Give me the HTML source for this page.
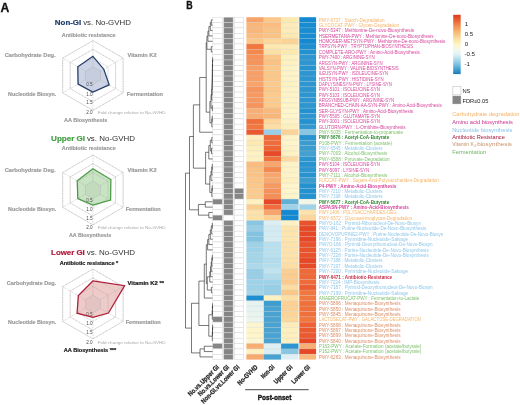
<!DOCTYPE html>
<html><head><meta charset="utf-8"><style>
html,body{margin:0;padding:0;background:#fff;width:520px;height:405px;overflow:hidden}
svg{display:block;filter:blur(0.3px)}
text{font-family:"Liberation Sans",sans-serif}
</style></head><body>
<svg width="520" height="405" viewBox="0 0 520 405">
<rect x="0" y="0" width="520" height="405" fill="#fff"/>
<rect x="246.4" y="17.20" width="17.4" height="5.35" fill="#f7a36a"/>
<rect x="263.8" y="17.20" width="17.3" height="5.35" fill="#fbc88a"/>
<rect x="281.1" y="17.20" width="17.4" height="5.35" fill="#fde8b0"/>
<rect x="299.3" y="17.20" width="16.8" height="5.35" fill="#1289d0"/>
<rect x="246.4" y="22.55" width="17.4" height="5.35" fill="#f9b67a"/>
<rect x="263.8" y="22.55" width="17.3" height="5.35" fill="#fabc7f"/>
<rect x="281.1" y="22.55" width="17.4" height="5.35" fill="#fdecb9"/>
<rect x="299.3" y="22.55" width="16.8" height="5.35" fill="#178cd0"/>
<rect x="246.4" y="27.90" width="17.4" height="5.35" fill="#f9b67a"/>
<rect x="263.8" y="27.90" width="17.3" height="5.35" fill="#fac285"/>
<rect x="281.1" y="27.90" width="17.4" height="5.35" fill="#fdecb9"/>
<rect x="299.3" y="27.90" width="16.8" height="5.35" fill="#178cd0"/>
<rect x="246.4" y="33.25" width="17.4" height="5.35" fill="#fabc7f"/>
<rect x="263.8" y="33.25" width="17.3" height="5.35" fill="#fac285"/>
<rect x="281.1" y="33.25" width="17.4" height="5.35" fill="#fde8b0"/>
<rect x="299.3" y="33.25" width="16.8" height="5.35" fill="#178cd0"/>
<rect x="246.4" y="38.60" width="17.4" height="5.35" fill="#fbc88a"/>
<rect x="263.8" y="38.60" width="17.3" height="5.35" fill="#fcd69a"/>
<rect x="281.1" y="38.60" width="17.4" height="5.35" fill="#fcd397"/>
<rect x="299.3" y="38.60" width="16.8" height="5.35" fill="#1289d0"/>
<rect x="246.4" y="43.95" width="17.4" height="5.35" fill="#f2773f"/>
<rect x="263.8" y="43.95" width="17.3" height="5.35" fill="#fde8b0"/>
<rect x="281.1" y="43.95" width="17.4" height="5.35" fill="#fdebb5"/>
<rect x="299.3" y="43.95" width="16.8" height="5.35" fill="#1d8ed0"/>
<rect x="246.4" y="49.30" width="17.4" height="5.35" fill="#f48950"/>
<rect x="263.8" y="49.30" width="17.3" height="5.35" fill="#fcdfa5"/>
<rect x="281.1" y="49.30" width="17.4" height="5.35" fill="#fde8b0"/>
<rect x="299.3" y="49.30" width="16.8" height="5.35" fill="#2291d0"/>
<rect x="246.4" y="54.65" width="17.4" height="5.35" fill="#f59159"/>
<rect x="263.8" y="54.65" width="17.3" height="5.35" fill="#fbc88a"/>
<rect x="281.1" y="54.65" width="17.4" height="5.35" fill="#fef1c1"/>
<rect x="299.3" y="54.65" width="16.8" height="5.35" fill="#2d96d0"/>
<rect x="246.4" y="60.00" width="17.4" height="5.35" fill="#f5955c"/>
<rect x="263.8" y="60.00" width="17.3" height="5.35" fill="#fac285"/>
<rect x="281.1" y="60.00" width="17.4" height="5.35" fill="#fef1c1"/>
<rect x="299.3" y="60.00" width="16.8" height="5.35" fill="#2d96d0"/>
<rect x="246.4" y="65.35" width="17.4" height="5.35" fill="#f79f67"/>
<rect x="263.8" y="65.35" width="17.3" height="5.35" fill="#fbc88a"/>
<rect x="281.1" y="65.35" width="17.4" height="5.35" fill="#fef3c7"/>
<rect x="299.3" y="65.35" width="16.8" height="5.35" fill="#2793d0"/>
<rect x="246.4" y="70.70" width="17.4" height="5.35" fill="#f79f67"/>
<rect x="263.8" y="70.70" width="17.3" height="5.35" fill="#fbc88a"/>
<rect x="281.1" y="70.70" width="17.4" height="5.35" fill="#fef3c7"/>
<rect x="299.3" y="70.70" width="16.8" height="5.35" fill="#2d96d0"/>
<rect x="246.4" y="76.05" width="17.4" height="5.35" fill="#f79f67"/>
<rect x="263.8" y="76.05" width="17.3" height="5.35" fill="#fbc88a"/>
<rect x="281.1" y="76.05" width="17.4" height="5.35" fill="#fef3c7"/>
<rect x="299.3" y="76.05" width="16.8" height="5.35" fill="#2d96d0"/>
<rect x="246.4" y="81.40" width="17.4" height="5.35" fill="#f7a36a"/>
<rect x="263.8" y="81.40" width="17.3" height="5.35" fill="#fbcb8d"/>
<rect x="281.1" y="81.40" width="17.4" height="5.35" fill="#fef2c3"/>
<rect x="299.3" y="81.40" width="16.8" height="5.35" fill="#2d96d0"/>
<rect x="246.4" y="86.75" width="17.4" height="5.35" fill="#f5955c"/>
<rect x="263.8" y="86.75" width="17.3" height="5.35" fill="#fbc88a"/>
<rect x="281.1" y="86.75" width="17.4" height="5.35" fill="#fef3c7"/>
<rect x="299.3" y="86.75" width="16.8" height="5.35" fill="#2d96d0"/>
<rect x="246.4" y="92.10" width="17.4" height="5.35" fill="#f69a61"/>
<rect x="263.8" y="92.10" width="17.3" height="5.35" fill="#fbca8c"/>
<rect x="281.1" y="92.10" width="17.4" height="5.35" fill="#fef3c7"/>
<rect x="299.3" y="92.10" width="16.8" height="5.35" fill="#2d96d0"/>
<rect x="246.4" y="97.45" width="17.4" height="5.35" fill="#f69860"/>
<rect x="263.8" y="97.45" width="17.3" height="5.35" fill="#fbca8c"/>
<rect x="281.1" y="97.45" width="17.4" height="5.35" fill="#fef4c8"/>
<rect x="299.3" y="97.45" width="16.8" height="5.35" fill="#2d96d0"/>
<rect x="246.4" y="102.80" width="17.4" height="5.35" fill="#f5955c"/>
<rect x="263.8" y="102.80" width="17.3" height="5.35" fill="#fbca8c"/>
<rect x="281.1" y="102.80" width="17.4" height="5.35" fill="#fef4c8"/>
<rect x="299.3" y="102.80" width="16.8" height="5.35" fill="#2d96d0"/>
<rect x="246.4" y="108.15" width="17.4" height="5.35" fill="#f8af75"/>
<rect x="263.8" y="108.15" width="17.3" height="5.35" fill="#f9b97d"/>
<rect x="281.1" y="108.15" width="17.4" height="5.35" fill="#fef5ca"/>
<rect x="299.3" y="108.15" width="16.8" height="5.35" fill="#2492d0"/>
<rect x="246.4" y="113.50" width="17.4" height="5.35" fill="#f8af75"/>
<rect x="263.8" y="113.50" width="17.3" height="5.35" fill="#f9b67a"/>
<rect x="281.1" y="113.50" width="17.4" height="5.35" fill="#fef5ca"/>
<rect x="299.3" y="113.50" width="16.8" height="5.35" fill="#2d96d0"/>
<rect x="246.4" y="118.85" width="17.4" height="5.35" fill="#f0703b"/>
<rect x="263.8" y="118.85" width="17.3" height="5.35" fill="#fcd69a"/>
<rect x="281.1" y="118.85" width="17.4" height="5.35" fill="#fef3c7"/>
<rect x="299.3" y="118.85" width="16.8" height="5.35" fill="#2492d0"/>
<rect x="246.4" y="124.20" width="17.4" height="5.35" fill="#f2773f"/>
<rect x="263.8" y="124.20" width="17.3" height="5.35" fill="#fcdda3"/>
<rect x="281.1" y="124.20" width="17.4" height="5.35" fill="#feefbe"/>
<rect x="299.3" y="124.20" width="16.8" height="5.35" fill="#3398d0"/>
<rect x="246.4" y="129.55" width="17.4" height="5.35" fill="#eb5930"/>
<rect x="263.8" y="129.55" width="17.3" height="5.35" fill="#98cee6"/>
<rect x="281.1" y="129.55" width="17.4" height="5.35" fill="#fcd397"/>
<rect x="299.3" y="129.55" width="16.8" height="5.35" fill="#88c6e2"/>
<rect x="246.4" y="134.90" width="17.4" height="5.35" fill="#feefbe"/>
<rect x="263.8" y="134.90" width="17.3" height="5.35" fill="#ef6837"/>
<rect x="281.1" y="134.90" width="17.4" height="5.35" fill="#fef3c7"/>
<rect x="299.3" y="134.90" width="16.8" height="5.35" fill="#2793d0"/>
<rect x="246.4" y="140.25" width="17.4" height="5.35" fill="#fde8b0"/>
<rect x="263.8" y="140.25" width="17.3" height="5.35" fill="#f06c3a"/>
<rect x="281.1" y="140.25" width="17.4" height="5.35" fill="#fef5ca"/>
<rect x="299.3" y="140.25" width="16.8" height="5.35" fill="#3b9cd0"/>
<rect x="246.4" y="145.60" width="17.4" height="5.35" fill="#fdeebc"/>
<rect x="263.8" y="145.60" width="17.3" height="5.35" fill="#ee6536"/>
<rect x="281.1" y="145.60" width="17.4" height="5.35" fill="#fef3c7"/>
<rect x="299.3" y="145.60" width="16.8" height="5.35" fill="#3b9cd0"/>
<rect x="246.4" y="150.95" width="17.4" height="5.35" fill="#fef2c5"/>
<rect x="263.8" y="150.95" width="17.3" height="5.35" fill="#e84a28"/>
<rect x="281.1" y="150.95" width="17.4" height="5.35" fill="#fef2c5"/>
<rect x="299.3" y="150.95" width="16.8" height="5.35" fill="#44a0d0"/>
<rect x="246.4" y="156.30" width="17.4" height="5.35" fill="#fef1c1"/>
<rect x="263.8" y="156.30" width="17.3" height="5.35" fill="#f0703b"/>
<rect x="281.1" y="156.30" width="17.4" height="5.35" fill="#fcdaa0"/>
<rect x="299.3" y="156.30" width="16.8" height="5.35" fill="#2d96d0"/>
<rect x="246.4" y="161.65" width="17.4" height="5.35" fill="#fabc7f"/>
<rect x="263.8" y="161.65" width="17.3" height="5.35" fill="#f7a56c"/>
<rect x="281.1" y="161.65" width="17.4" height="5.35" fill="#fef3c7"/>
<rect x="299.3" y="161.65" width="16.8" height="5.35" fill="#2793d0"/>
<rect x="246.4" y="167.00" width="17.4" height="5.35" fill="#fac285"/>
<rect x="263.8" y="167.00" width="17.3" height="5.35" fill="#f48950"/>
<rect x="281.1" y="167.00" width="17.4" height="5.35" fill="#fef3c7"/>
<rect x="299.3" y="167.00" width="16.8" height="5.35" fill="#2d96d0"/>
<rect x="246.4" y="172.35" width="17.4" height="5.35" fill="#fac285"/>
<rect x="263.8" y="172.35" width="17.3" height="5.35" fill="#f7a56c"/>
<rect x="281.1" y="172.35" width="17.4" height="5.35" fill="#fef3c7"/>
<rect x="299.3" y="172.35" width="16.8" height="5.35" fill="#2793d0"/>
<rect x="246.4" y="177.70" width="17.4" height="5.35" fill="#fbc688"/>
<rect x="263.8" y="177.70" width="17.3" height="5.35" fill="#f8a96f"/>
<rect x="281.1" y="177.70" width="17.4" height="5.35" fill="#fef1c1"/>
<rect x="299.3" y="177.70" width="16.8" height="5.35" fill="#3b9cd0"/>
<rect x="246.4" y="183.05" width="17.4" height="5.35" fill="#fbc88a"/>
<rect x="263.8" y="183.05" width="17.3" height="5.35" fill="#f69a61"/>
<rect x="281.1" y="183.05" width="17.4" height="5.35" fill="#fef5ca"/>
<rect x="299.3" y="183.05" width="16.8" height="5.35" fill="#2492d0"/>
<rect x="246.4" y="188.40" width="17.4" height="5.35" fill="#fbca8c"/>
<rect x="263.8" y="188.40" width="17.3" height="5.35" fill="#f59159"/>
<rect x="281.1" y="188.40" width="17.4" height="5.35" fill="#fef5ca"/>
<rect x="299.3" y="188.40" width="16.8" height="5.35" fill="#2492d0"/>
<rect x="246.4" y="193.75" width="17.4" height="5.35" fill="#fbcc8e"/>
<rect x="263.8" y="193.75" width="17.3" height="5.35" fill="#f58e55"/>
<rect x="281.1" y="193.75" width="17.4" height="5.35" fill="#fef5ca"/>
<rect x="299.3" y="193.75" width="16.8" height="5.35" fill="#2492d0"/>
<rect x="246.4" y="199.10" width="17.4" height="5.35" fill="#fef1c1"/>
<rect x="263.8" y="199.10" width="17.3" height="5.35" fill="#e64726"/>
<rect x="281.1" y="199.10" width="17.4" height="5.35" fill="#61b0d6"/>
<rect x="299.3" y="199.10" width="16.8" height="5.35" fill="#f1f6e7"/>
<rect x="246.4" y="204.45" width="17.4" height="5.35" fill="#fbcd8f"/>
<rect x="263.8" y="204.45" width="17.3" height="5.35" fill="#f06c3a"/>
<rect x="281.1" y="204.45" width="17.4" height="5.35" fill="#9ed2e8"/>
<rect x="299.3" y="204.45" width="16.8" height="5.35" fill="#9ed2e8"/>
<rect x="246.4" y="209.80" width="17.4" height="5.35" fill="#fde3ab"/>
<rect x="263.8" y="209.80" width="17.3" height="5.35" fill="#f7a56c"/>
<rect x="281.1" y="209.80" width="17.4" height="5.35" fill="#1289d0"/>
<rect x="299.3" y="209.80" width="16.8" height="5.35" fill="#fde3ab"/>
<rect x="246.4" y="215.15" width="17.4" height="5.35" fill="#fde2a8"/>
<rect x="263.8" y="215.15" width="17.3" height="5.35" fill="#fcd195"/>
<rect x="281.1" y="215.15" width="17.4" height="5.35" fill="#1289d0"/>
<rect x="299.3" y="215.15" width="16.8" height="5.35" fill="#fcd69a"/>
<rect x="246.4" y="220.50" width="17.4" height="5.35" fill="#88c6e2"/>
<rect x="263.8" y="220.50" width="17.3" height="5.35" fill="#daeef4"/>
<rect x="281.1" y="220.50" width="17.4" height="5.35" fill="#fef2c5"/>
<rect x="299.3" y="220.50" width="16.8" height="5.35" fill="#ea522c"/>
<rect x="246.4" y="225.85" width="17.4" height="5.35" fill="#98cee6"/>
<rect x="263.8" y="225.85" width="17.3" height="5.35" fill="#d3ebf3"/>
<rect x="281.1" y="225.85" width="17.4" height="5.35" fill="#fde5ad"/>
<rect x="299.3" y="225.85" width="16.8" height="5.35" fill="#e64726"/>
<rect x="246.4" y="231.20" width="17.4" height="5.35" fill="#82c3e0"/>
<rect x="263.8" y="231.20" width="17.3" height="5.35" fill="#d3ebf3"/>
<rect x="281.1" y="231.20" width="17.4" height="5.35" fill="#fde5ad"/>
<rect x="299.3" y="231.20" width="16.8" height="5.35" fill="#e64726"/>
<rect x="246.4" y="236.55" width="17.4" height="5.35" fill="#82c3e0"/>
<rect x="263.8" y="236.55" width="17.3" height="5.35" fill="#d6ecf3"/>
<rect x="281.1" y="236.55" width="17.4" height="5.35" fill="#fde5ad"/>
<rect x="299.3" y="236.55" width="16.8" height="5.35" fill="#e64726"/>
<rect x="246.4" y="241.90" width="17.4" height="5.35" fill="#9ed2e8"/>
<rect x="263.8" y="241.90" width="17.3" height="5.35" fill="#b8e0ee"/>
<rect x="281.1" y="241.90" width="17.4" height="5.35" fill="#fde3ab"/>
<rect x="299.3" y="241.90" width="16.8" height="5.35" fill="#ea522c"/>
<rect x="246.4" y="247.25" width="17.4" height="5.35" fill="#9ed2e8"/>
<rect x="263.8" y="247.25" width="17.3" height="5.35" fill="#b8e0ee"/>
<rect x="281.1" y="247.25" width="17.4" height="5.35" fill="#fde3ab"/>
<rect x="299.3" y="247.25" width="16.8" height="5.35" fill="#ea522c"/>
<rect x="246.4" y="252.60" width="17.4" height="5.35" fill="#a5d5e9"/>
<rect x="263.8" y="252.60" width="17.3" height="5.35" fill="#b8e0ee"/>
<rect x="281.1" y="252.60" width="17.4" height="5.35" fill="#fde3ab"/>
<rect x="299.3" y="252.60" width="16.8" height="5.35" fill="#ea522c"/>
<rect x="246.4" y="257.95" width="17.4" height="5.35" fill="#a5d5e9"/>
<rect x="263.8" y="257.95" width="17.3" height="5.35" fill="#b2dcec"/>
<rect x="281.1" y="257.95" width="17.4" height="5.35" fill="#fde1a7"/>
<rect x="299.3" y="257.95" width="16.8" height="5.35" fill="#e64827"/>
<rect x="246.4" y="263.30" width="17.4" height="5.35" fill="#abd9eb"/>
<rect x="263.8" y="263.30" width="17.3" height="5.35" fill="#b4deed"/>
<rect x="281.1" y="263.30" width="17.4" height="5.35" fill="#fcdda3"/>
<rect x="299.3" y="263.30" width="16.8" height="5.35" fill="#e84a28"/>
<rect x="246.4" y="268.65" width="17.4" height="5.35" fill="#98cee6"/>
<rect x="263.8" y="268.65" width="17.3" height="5.35" fill="#bfe3ef"/>
<rect x="281.1" y="268.65" width="17.4" height="5.35" fill="#fbcf93"/>
<rect x="299.3" y="268.65" width="16.8" height="5.35" fill="#ef6837"/>
<rect x="246.4" y="274.00" width="17.4" height="5.35" fill="#98cee6"/>
<rect x="263.8" y="274.00" width="17.3" height="5.35" fill="#b2dcec"/>
<rect x="281.1" y="274.00" width="17.4" height="5.35" fill="#fbcd8f"/>
<rect x="299.3" y="274.00" width="16.8" height="5.35" fill="#ef6837"/>
<rect x="246.4" y="279.35" width="17.4" height="5.35" fill="#9ed2e8"/>
<rect x="263.8" y="279.35" width="17.3" height="5.35" fill="#9ed2e8"/>
<rect x="281.1" y="279.35" width="17.4" height="5.35" fill="#fbca8c"/>
<rect x="299.3" y="279.35" width="16.8" height="5.35" fill="#ef6b39"/>
<rect x="246.4" y="284.70" width="17.4" height="5.35" fill="#9ed2e8"/>
<rect x="263.8" y="284.70" width="17.3" height="5.35" fill="#98cee6"/>
<rect x="281.1" y="284.70" width="17.4" height="5.35" fill="#fcdda3"/>
<rect x="299.3" y="284.70" width="16.8" height="5.35" fill="#ec5e32"/>
<rect x="246.4" y="290.05" width="17.4" height="5.35" fill="#a5d5e9"/>
<rect x="263.8" y="290.05" width="17.3" height="5.35" fill="#98cee6"/>
<rect x="281.1" y="290.05" width="17.4" height="5.35" fill="#fbc88a"/>
<rect x="299.3" y="290.05" width="16.8" height="5.35" fill="#f2773f"/>
<rect x="246.4" y="295.40" width="17.4" height="5.35" fill="#1d8ed0"/>
<rect x="263.8" y="295.40" width="17.3" height="5.35" fill="#fef1c1"/>
<rect x="281.1" y="295.40" width="17.4" height="5.35" fill="#fcdfa5"/>
<rect x="299.3" y="295.40" width="16.8" height="5.35" fill="#f2773f"/>
<rect x="246.4" y="300.75" width="17.4" height="5.35" fill="#e6f3f0"/>
<rect x="263.8" y="300.75" width="17.3" height="5.35" fill="#3b9cd0"/>
<rect x="281.1" y="300.75" width="17.4" height="5.35" fill="#fcd195"/>
<rect x="299.3" y="300.75" width="16.8" height="5.35" fill="#f0703b"/>
<rect x="246.4" y="306.10" width="17.4" height="5.35" fill="#e6f3f0"/>
<rect x="263.8" y="306.10" width="17.3" height="5.35" fill="#4aa2d0"/>
<rect x="281.1" y="306.10" width="17.4" height="5.35" fill="#fcd195"/>
<rect x="299.3" y="306.10" width="16.8" height="5.35" fill="#f0703b"/>
<rect x="246.4" y="311.45" width="17.4" height="5.35" fill="#eaf4ef"/>
<rect x="263.8" y="311.45" width="17.3" height="5.35" fill="#4aa2d0"/>
<rect x="281.1" y="311.45" width="17.4" height="5.35" fill="#fcd498"/>
<rect x="299.3" y="311.45" width="16.8" height="5.35" fill="#f0703b"/>
<rect x="246.4" y="316.80" width="17.4" height="5.35" fill="#ecf5ef"/>
<rect x="263.8" y="316.80" width="17.3" height="5.35" fill="#4aa2d0"/>
<rect x="281.1" y="316.80" width="17.4" height="5.35" fill="#fcd89c"/>
<rect x="299.3" y="316.80" width="16.8" height="5.35" fill="#f2773f"/>
<rect x="246.4" y="322.15" width="17.4" height="5.35" fill="#fbf5d1"/>
<rect x="263.8" y="322.15" width="17.3" height="5.35" fill="#4aa2d0"/>
<rect x="281.1" y="322.15" width="17.4" height="5.35" fill="#fdecb9"/>
<rect x="299.3" y="322.15" width="16.8" height="5.35" fill="#ed6134"/>
<rect x="246.4" y="327.50" width="17.4" height="5.35" fill="#fef5ca"/>
<rect x="263.8" y="327.50" width="17.3" height="5.35" fill="#4aa2d0"/>
<rect x="281.1" y="327.50" width="17.4" height="5.35" fill="#feefbe"/>
<rect x="299.3" y="327.50" width="16.8" height="5.35" fill="#eb5930"/>
<rect x="246.4" y="332.85" width="17.4" height="5.35" fill="#fef5ca"/>
<rect x="263.8" y="332.85" width="17.3" height="5.35" fill="#4aa2d0"/>
<rect x="281.1" y="332.85" width="17.4" height="5.35" fill="#feefbe"/>
<rect x="299.3" y="332.85" width="16.8" height="5.35" fill="#eb5930"/>
<rect x="246.4" y="338.20" width="17.4" height="5.35" fill="#fbf5d1"/>
<rect x="263.8" y="338.20" width="17.3" height="5.35" fill="#4aa2d0"/>
<rect x="281.1" y="338.20" width="17.4" height="5.35" fill="#feefbe"/>
<rect x="299.3" y="338.20" width="16.8" height="5.35" fill="#e64726"/>
<rect x="246.4" y="343.55" width="17.4" height="5.35" fill="#f8ad73"/>
<rect x="263.8" y="343.55" width="17.3" height="5.35" fill="#def0f3"/>
<rect x="281.1" y="343.55" width="17.4" height="5.35" fill="#2d96d0"/>
<rect x="299.3" y="343.55" width="16.8" height="5.35" fill="#f8af75"/>
<rect x="246.4" y="348.90" width="17.4" height="5.35" fill="#fef1c1"/>
<rect x="263.8" y="348.90" width="17.3" height="5.35" fill="#daeef4"/>
<rect x="281.1" y="348.90" width="17.4" height="5.35" fill="#88c6e2"/>
<rect x="299.3" y="348.90" width="16.8" height="5.35" fill="#e64726"/>
<rect x="246.4" y="354.25" width="17.4" height="5.35" fill="#f8a96f"/>
<rect x="263.8" y="354.25" width="17.3" height="5.35" fill="#4aa2d0"/>
<rect x="281.1" y="354.25" width="17.4" height="5.35" fill="#def0f3"/>
<rect x="299.3" y="354.25" width="16.8" height="5.35" fill="#f9b97d"/>
<path d="M246.4 22.55H316.1 M246.4 27.90H316.1 M246.4 33.25H316.1 M246.4 38.60H316.1 M246.4 43.95H316.1 M246.4 49.30H316.1 M246.4 54.65H316.1 M246.4 60.00H316.1 M246.4 65.35H316.1 M246.4 70.70H316.1 M246.4 76.05H316.1 M246.4 81.40H316.1 M246.4 86.75H316.1 M246.4 92.10H316.1 M246.4 97.45H316.1 M246.4 102.80H316.1 M246.4 108.15H316.1 M246.4 113.50H316.1 M246.4 118.85H316.1 M246.4 124.20H316.1 M246.4 129.55H316.1 M246.4 134.90H316.1 M246.4 140.25H316.1 M246.4 145.60H316.1 M246.4 150.95H316.1 M246.4 156.30H316.1 M246.4 161.65H316.1 M246.4 167.00H316.1 M246.4 172.35H316.1 M246.4 177.70H316.1 M246.4 183.05H316.1 M246.4 188.40H316.1 M246.4 193.75H316.1 M246.4 199.10H316.1 M246.4 204.45H316.1 M246.4 209.80H316.1 M246.4 215.15H316.1 M246.4 220.50H316.1 M246.4 225.85H316.1 M246.4 231.20H316.1 M246.4 236.55H316.1 M246.4 241.90H316.1 M246.4 247.25H316.1 M246.4 252.60H316.1 M246.4 257.95H316.1 M246.4 263.30H316.1 M246.4 268.65H316.1 M246.4 274.00H316.1 M246.4 279.35H316.1 M246.4 284.70H316.1 M246.4 290.05H316.1 M246.4 295.40H316.1 M246.4 300.75H316.1 M246.4 306.10H316.1 M246.4 311.45H316.1 M246.4 316.80H316.1 M246.4 322.15H316.1 M246.4 327.50H316.1 M246.4 332.85H316.1 M246.4 338.20H316.1 M246.4 343.55H316.1 M246.4 348.90H316.1 M246.4 354.25H316.1" stroke="#c4c4c4" stroke-opacity="0.5" stroke-width="0.5"/>
<rect x="212.8" y="17.20" width="9.5" height="5.35" fill="#ffffff" stroke="#d4d4d4" stroke-width="0.5"/>
<rect x="223.8" y="17.20" width="9.3" height="5.35" fill="#858585" stroke="#d4d4d4" stroke-width="0.5"/>
<rect x="234.4" y="17.20" width="9.3" height="5.35" fill="#ffffff" stroke="#d4d4d4" stroke-width="0.5"/>
<rect x="212.8" y="22.55" width="9.5" height="5.35" fill="#ffffff" stroke="#d4d4d4" stroke-width="0.5"/>
<rect x="223.8" y="22.55" width="9.3" height="5.35" fill="#858585" stroke="#d4d4d4" stroke-width="0.5"/>
<rect x="234.4" y="22.55" width="9.3" height="5.35" fill="#ffffff" stroke="#d4d4d4" stroke-width="0.5"/>
<rect x="212.8" y="27.90" width="9.5" height="5.35" fill="#ffffff" stroke="#d4d4d4" stroke-width="0.5"/>
<rect x="223.8" y="27.90" width="9.3" height="5.35" fill="#858585" stroke="#d4d4d4" stroke-width="0.5"/>
<rect x="234.4" y="27.90" width="9.3" height="5.35" fill="#ffffff" stroke="#d4d4d4" stroke-width="0.5"/>
<rect x="212.8" y="33.25" width="9.5" height="5.35" fill="#ffffff" stroke="#d4d4d4" stroke-width="0.5"/>
<rect x="223.8" y="33.25" width="9.3" height="5.35" fill="#858585" stroke="#d4d4d4" stroke-width="0.5"/>
<rect x="234.4" y="33.25" width="9.3" height="5.35" fill="#ffffff" stroke="#d4d4d4" stroke-width="0.5"/>
<rect x="212.8" y="38.60" width="9.5" height="5.35" fill="#ffffff" stroke="#d4d4d4" stroke-width="0.5"/>
<rect x="223.8" y="38.60" width="9.3" height="5.35" fill="#858585" stroke="#d4d4d4" stroke-width="0.5"/>
<rect x="234.4" y="38.60" width="9.3" height="5.35" fill="#ffffff" stroke="#d4d4d4" stroke-width="0.5"/>
<rect x="212.8" y="43.95" width="9.5" height="5.35" fill="#ffffff" stroke="#d4d4d4" stroke-width="0.5"/>
<rect x="223.8" y="43.95" width="9.3" height="5.35" fill="#858585" stroke="#d4d4d4" stroke-width="0.5"/>
<rect x="234.4" y="43.95" width="9.3" height="5.35" fill="#ffffff" stroke="#d4d4d4" stroke-width="0.5"/>
<rect x="212.8" y="49.30" width="9.5" height="5.35" fill="#ffffff" stroke="#d4d4d4" stroke-width="0.5"/>
<rect x="223.8" y="49.30" width="9.3" height="5.35" fill="#858585" stroke="#d4d4d4" stroke-width="0.5"/>
<rect x="234.4" y="49.30" width="9.3" height="5.35" fill="#ffffff" stroke="#d4d4d4" stroke-width="0.5"/>
<rect x="212.8" y="54.65" width="9.5" height="5.35" fill="#ffffff" stroke="#d4d4d4" stroke-width="0.5"/>
<rect x="223.8" y="54.65" width="9.3" height="5.35" fill="#858585" stroke="#d4d4d4" stroke-width="0.5"/>
<rect x="234.4" y="54.65" width="9.3" height="5.35" fill="#ffffff" stroke="#d4d4d4" stroke-width="0.5"/>
<rect x="212.8" y="60.00" width="9.5" height="5.35" fill="#ffffff" stroke="#d4d4d4" stroke-width="0.5"/>
<rect x="223.8" y="60.00" width="9.3" height="5.35" fill="#858585" stroke="#d4d4d4" stroke-width="0.5"/>
<rect x="234.4" y="60.00" width="9.3" height="5.35" fill="#ffffff" stroke="#d4d4d4" stroke-width="0.5"/>
<rect x="212.8" y="65.35" width="9.5" height="5.35" fill="#ffffff" stroke="#d4d4d4" stroke-width="0.5"/>
<rect x="223.8" y="65.35" width="9.3" height="5.35" fill="#858585" stroke="#d4d4d4" stroke-width="0.5"/>
<rect x="234.4" y="65.35" width="9.3" height="5.35" fill="#ffffff" stroke="#d4d4d4" stroke-width="0.5"/>
<rect x="212.8" y="70.70" width="9.5" height="5.35" fill="#ffffff" stroke="#d4d4d4" stroke-width="0.5"/>
<rect x="223.8" y="70.70" width="9.3" height="5.35" fill="#858585" stroke="#d4d4d4" stroke-width="0.5"/>
<rect x="234.4" y="70.70" width="9.3" height="5.35" fill="#ffffff" stroke="#d4d4d4" stroke-width="0.5"/>
<rect x="212.8" y="76.05" width="9.5" height="5.35" fill="#ffffff" stroke="#d4d4d4" stroke-width="0.5"/>
<rect x="223.8" y="76.05" width="9.3" height="5.35" fill="#858585" stroke="#d4d4d4" stroke-width="0.5"/>
<rect x="234.4" y="76.05" width="9.3" height="5.35" fill="#ffffff" stroke="#d4d4d4" stroke-width="0.5"/>
<rect x="212.8" y="81.40" width="9.5" height="5.35" fill="#ffffff" stroke="#d4d4d4" stroke-width="0.5"/>
<rect x="223.8" y="81.40" width="9.3" height="5.35" fill="#858585" stroke="#d4d4d4" stroke-width="0.5"/>
<rect x="234.4" y="81.40" width="9.3" height="5.35" fill="#ffffff" stroke="#d4d4d4" stroke-width="0.5"/>
<rect x="212.8" y="86.75" width="9.5" height="5.35" fill="#ffffff" stroke="#d4d4d4" stroke-width="0.5"/>
<rect x="223.8" y="86.75" width="9.3" height="5.35" fill="#858585" stroke="#d4d4d4" stroke-width="0.5"/>
<rect x="234.4" y="86.75" width="9.3" height="5.35" fill="#ffffff" stroke="#d4d4d4" stroke-width="0.5"/>
<rect x="212.8" y="92.10" width="9.5" height="5.35" fill="#ffffff" stroke="#d4d4d4" stroke-width="0.5"/>
<rect x="223.8" y="92.10" width="9.3" height="5.35" fill="#858585" stroke="#d4d4d4" stroke-width="0.5"/>
<rect x="234.4" y="92.10" width="9.3" height="5.35" fill="#ffffff" stroke="#d4d4d4" stroke-width="0.5"/>
<rect x="212.8" y="97.45" width="9.5" height="5.35" fill="#ffffff" stroke="#d4d4d4" stroke-width="0.5"/>
<rect x="223.8" y="97.45" width="9.3" height="5.35" fill="#858585" stroke="#d4d4d4" stroke-width="0.5"/>
<rect x="234.4" y="97.45" width="9.3" height="5.35" fill="#ffffff" stroke="#d4d4d4" stroke-width="0.5"/>
<rect x="212.8" y="102.80" width="9.5" height="5.35" fill="#ffffff" stroke="#d4d4d4" stroke-width="0.5"/>
<rect x="223.8" y="102.80" width="9.3" height="5.35" fill="#858585" stroke="#d4d4d4" stroke-width="0.5"/>
<rect x="234.4" y="102.80" width="9.3" height="5.35" fill="#ffffff" stroke="#d4d4d4" stroke-width="0.5"/>
<rect x="212.8" y="108.15" width="9.5" height="5.35" fill="#ffffff" stroke="#d4d4d4" stroke-width="0.5"/>
<rect x="223.8" y="108.15" width="9.3" height="5.35" fill="#858585" stroke="#d4d4d4" stroke-width="0.5"/>
<rect x="234.4" y="108.15" width="9.3" height="5.35" fill="#ffffff" stroke="#d4d4d4" stroke-width="0.5"/>
<rect x="212.8" y="113.50" width="9.5" height="5.35" fill="#ffffff" stroke="#d4d4d4" stroke-width="0.5"/>
<rect x="223.8" y="113.50" width="9.3" height="5.35" fill="#858585" stroke="#d4d4d4" stroke-width="0.5"/>
<rect x="234.4" y="113.50" width="9.3" height="5.35" fill="#ffffff" stroke="#d4d4d4" stroke-width="0.5"/>
<rect x="212.8" y="118.85" width="9.5" height="5.35" fill="#ffffff" stroke="#d4d4d4" stroke-width="0.5"/>
<rect x="223.8" y="118.85" width="9.3" height="5.35" fill="#858585" stroke="#d4d4d4" stroke-width="0.5"/>
<rect x="234.4" y="118.85" width="9.3" height="5.35" fill="#ffffff" stroke="#d4d4d4" stroke-width="0.5"/>
<rect x="212.8" y="124.20" width="9.5" height="5.35" fill="#ffffff" stroke="#d4d4d4" stroke-width="0.5"/>
<rect x="223.8" y="124.20" width="9.3" height="5.35" fill="#858585" stroke="#d4d4d4" stroke-width="0.5"/>
<rect x="234.4" y="124.20" width="9.3" height="5.35" fill="#ffffff" stroke="#d4d4d4" stroke-width="0.5"/>
<rect x="212.8" y="129.55" width="9.5" height="5.35" fill="#ffffff" stroke="#d4d4d4" stroke-width="0.5"/>
<rect x="223.8" y="129.55" width="9.3" height="5.35" fill="#858585" stroke="#d4d4d4" stroke-width="0.5"/>
<rect x="234.4" y="129.55" width="9.3" height="5.35" fill="#ffffff" stroke="#d4d4d4" stroke-width="0.5"/>
<rect x="212.8" y="134.90" width="9.5" height="5.35" fill="#ffffff" stroke="#d4d4d4" stroke-width="0.5"/>
<rect x="223.8" y="134.90" width="9.3" height="5.35" fill="#858585" stroke="#d4d4d4" stroke-width="0.5"/>
<rect x="234.4" y="134.90" width="9.3" height="5.35" fill="#ffffff" stroke="#d4d4d4" stroke-width="0.5"/>
<rect x="212.8" y="140.25" width="9.5" height="5.35" fill="#ffffff" stroke="#d4d4d4" stroke-width="0.5"/>
<rect x="223.8" y="140.25" width="9.3" height="5.35" fill="#858585" stroke="#d4d4d4" stroke-width="0.5"/>
<rect x="234.4" y="140.25" width="9.3" height="5.35" fill="#ffffff" stroke="#d4d4d4" stroke-width="0.5"/>
<rect x="212.8" y="145.60" width="9.5" height="5.35" fill="#ffffff" stroke="#d4d4d4" stroke-width="0.5"/>
<rect x="223.8" y="145.60" width="9.3" height="5.35" fill="#858585" stroke="#d4d4d4" stroke-width="0.5"/>
<rect x="234.4" y="145.60" width="9.3" height="5.35" fill="#ffffff" stroke="#d4d4d4" stroke-width="0.5"/>
<rect x="212.8" y="150.95" width="9.5" height="5.35" fill="#ffffff" stroke="#d4d4d4" stroke-width="0.5"/>
<rect x="223.8" y="150.95" width="9.3" height="5.35" fill="#858585" stroke="#d4d4d4" stroke-width="0.5"/>
<rect x="234.4" y="150.95" width="9.3" height="5.35" fill="#ffffff" stroke="#d4d4d4" stroke-width="0.5"/>
<rect x="212.8" y="156.30" width="9.5" height="5.35" fill="#ffffff" stroke="#d4d4d4" stroke-width="0.5"/>
<rect x="223.8" y="156.30" width="9.3" height="5.35" fill="#858585" stroke="#d4d4d4" stroke-width="0.5"/>
<rect x="234.4" y="156.30" width="9.3" height="5.35" fill="#ffffff" stroke="#d4d4d4" stroke-width="0.5"/>
<rect x="212.8" y="161.65" width="9.5" height="5.35" fill="#ffffff" stroke="#d4d4d4" stroke-width="0.5"/>
<rect x="223.8" y="161.65" width="9.3" height="5.35" fill="#858585" stroke="#d4d4d4" stroke-width="0.5"/>
<rect x="234.4" y="161.65" width="9.3" height="5.35" fill="#ffffff" stroke="#d4d4d4" stroke-width="0.5"/>
<rect x="212.8" y="167.00" width="9.5" height="5.35" fill="#ffffff" stroke="#d4d4d4" stroke-width="0.5"/>
<rect x="223.8" y="167.00" width="9.3" height="5.35" fill="#858585" stroke="#d4d4d4" stroke-width="0.5"/>
<rect x="234.4" y="167.00" width="9.3" height="5.35" fill="#ffffff" stroke="#d4d4d4" stroke-width="0.5"/>
<rect x="212.8" y="172.35" width="9.5" height="5.35" fill="#ffffff" stroke="#d4d4d4" stroke-width="0.5"/>
<rect x="223.8" y="172.35" width="9.3" height="5.35" fill="#858585" stroke="#d4d4d4" stroke-width="0.5"/>
<rect x="234.4" y="172.35" width="9.3" height="5.35" fill="#ffffff" stroke="#d4d4d4" stroke-width="0.5"/>
<rect x="212.8" y="177.70" width="9.5" height="5.35" fill="#ffffff" stroke="#d4d4d4" stroke-width="0.5"/>
<rect x="223.8" y="177.70" width="9.3" height="5.35" fill="#858585" stroke="#d4d4d4" stroke-width="0.5"/>
<rect x="234.4" y="177.70" width="9.3" height="5.35" fill="#ffffff" stroke="#d4d4d4" stroke-width="0.5"/>
<rect x="212.8" y="183.05" width="9.5" height="5.35" fill="#ffffff" stroke="#d4d4d4" stroke-width="0.5"/>
<rect x="223.8" y="183.05" width="9.3" height="5.35" fill="#858585" stroke="#d4d4d4" stroke-width="0.5"/>
<rect x="234.4" y="183.05" width="9.3" height="5.35" fill="#ffffff" stroke="#d4d4d4" stroke-width="0.5"/>
<rect x="212.8" y="188.40" width="9.5" height="5.35" fill="#ffffff" stroke="#d4d4d4" stroke-width="0.5"/>
<rect x="223.8" y="188.40" width="9.3" height="5.35" fill="#858585" stroke="#d4d4d4" stroke-width="0.5"/>
<rect x="234.4" y="188.40" width="9.3" height="5.35" fill="#858585" stroke="#d4d4d4" stroke-width="0.5"/>
<rect x="212.8" y="193.75" width="9.5" height="5.35" fill="#ffffff" stroke="#d4d4d4" stroke-width="0.5"/>
<rect x="223.8" y="193.75" width="9.3" height="5.35" fill="#858585" stroke="#d4d4d4" stroke-width="0.5"/>
<rect x="234.4" y="193.75" width="9.3" height="5.35" fill="#858585" stroke="#d4d4d4" stroke-width="0.5"/>
<rect x="212.8" y="199.10" width="9.5" height="5.35" fill="#858585" stroke="#d4d4d4" stroke-width="0.5"/>
<rect x="223.8" y="199.10" width="9.3" height="5.35" fill="#858585" stroke="#d4d4d4" stroke-width="0.5"/>
<rect x="234.4" y="199.10" width="9.3" height="5.35" fill="#ffffff" stroke="#d4d4d4" stroke-width="0.5"/>
<rect x="212.8" y="204.45" width="9.5" height="5.35" fill="#ffffff" stroke="#d4d4d4" stroke-width="0.5"/>
<rect x="223.8" y="204.45" width="9.3" height="5.35" fill="#858585" stroke="#d4d4d4" stroke-width="0.5"/>
<rect x="234.4" y="204.45" width="9.3" height="5.35" fill="#ffffff" stroke="#d4d4d4" stroke-width="0.5"/>
<rect x="212.8" y="209.80" width="9.5" height="5.35" fill="#ffffff" stroke="#d4d4d4" stroke-width="0.5"/>
<rect x="223.8" y="209.80" width="9.3" height="5.35" fill="#858585" stroke="#d4d4d4" stroke-width="0.5"/>
<rect x="234.4" y="209.80" width="9.3" height="5.35" fill="#ffffff" stroke="#d4d4d4" stroke-width="0.5"/>
<rect x="212.8" y="215.15" width="9.5" height="5.35" fill="#858585" stroke="#d4d4d4" stroke-width="0.5"/>
<rect x="223.8" y="215.15" width="9.3" height="5.35" fill="#ffffff" stroke="#d4d4d4" stroke-width="0.5"/>
<rect x="234.4" y="215.15" width="9.3" height="5.35" fill="#ffffff" stroke="#d4d4d4" stroke-width="0.5"/>
<rect x="212.8" y="220.50" width="9.5" height="5.35" fill="#ffffff" stroke="#d4d4d4" stroke-width="0.5"/>
<rect x="223.8" y="220.50" width="9.3" height="5.35" fill="#858585" stroke="#d4d4d4" stroke-width="0.5"/>
<rect x="234.4" y="220.50" width="9.3" height="5.35" fill="#ffffff" stroke="#d4d4d4" stroke-width="0.5"/>
<rect x="212.8" y="225.85" width="9.5" height="5.35" fill="#ffffff" stroke="#d4d4d4" stroke-width="0.5"/>
<rect x="223.8" y="225.85" width="9.3" height="5.35" fill="#858585" stroke="#d4d4d4" stroke-width="0.5"/>
<rect x="234.4" y="225.85" width="9.3" height="5.35" fill="#ffffff" stroke="#d4d4d4" stroke-width="0.5"/>
<rect x="212.8" y="231.20" width="9.5" height="5.35" fill="#ffffff" stroke="#d4d4d4" stroke-width="0.5"/>
<rect x="223.8" y="231.20" width="9.3" height="5.35" fill="#858585" stroke="#d4d4d4" stroke-width="0.5"/>
<rect x="234.4" y="231.20" width="9.3" height="5.35" fill="#ffffff" stroke="#d4d4d4" stroke-width="0.5"/>
<rect x="212.8" y="236.55" width="9.5" height="5.35" fill="#ffffff" stroke="#d4d4d4" stroke-width="0.5"/>
<rect x="223.8" y="236.55" width="9.3" height="5.35" fill="#858585" stroke="#d4d4d4" stroke-width="0.5"/>
<rect x="234.4" y="236.55" width="9.3" height="5.35" fill="#ffffff" stroke="#d4d4d4" stroke-width="0.5"/>
<rect x="212.8" y="241.90" width="9.5" height="5.35" fill="#ffffff" stroke="#d4d4d4" stroke-width="0.5"/>
<rect x="223.8" y="241.90" width="9.3" height="5.35" fill="#858585" stroke="#d4d4d4" stroke-width="0.5"/>
<rect x="234.4" y="241.90" width="9.3" height="5.35" fill="#ffffff" stroke="#d4d4d4" stroke-width="0.5"/>
<rect x="212.8" y="247.25" width="9.5" height="5.35" fill="#ffffff" stroke="#d4d4d4" stroke-width="0.5"/>
<rect x="223.8" y="247.25" width="9.3" height="5.35" fill="#858585" stroke="#d4d4d4" stroke-width="0.5"/>
<rect x="234.4" y="247.25" width="9.3" height="5.35" fill="#ffffff" stroke="#d4d4d4" stroke-width="0.5"/>
<rect x="212.8" y="252.60" width="9.5" height="5.35" fill="#ffffff" stroke="#d4d4d4" stroke-width="0.5"/>
<rect x="223.8" y="252.60" width="9.3" height="5.35" fill="#858585" stroke="#d4d4d4" stroke-width="0.5"/>
<rect x="234.4" y="252.60" width="9.3" height="5.35" fill="#ffffff" stroke="#d4d4d4" stroke-width="0.5"/>
<rect x="212.8" y="257.95" width="9.5" height="5.35" fill="#ffffff" stroke="#d4d4d4" stroke-width="0.5"/>
<rect x="223.8" y="257.95" width="9.3" height="5.35" fill="#858585" stroke="#d4d4d4" stroke-width="0.5"/>
<rect x="234.4" y="257.95" width="9.3" height="5.35" fill="#ffffff" stroke="#d4d4d4" stroke-width="0.5"/>
<rect x="212.8" y="263.30" width="9.5" height="5.35" fill="#ffffff" stroke="#d4d4d4" stroke-width="0.5"/>
<rect x="223.8" y="263.30" width="9.3" height="5.35" fill="#858585" stroke="#d4d4d4" stroke-width="0.5"/>
<rect x="234.4" y="263.30" width="9.3" height="5.35" fill="#ffffff" stroke="#d4d4d4" stroke-width="0.5"/>
<rect x="212.8" y="268.65" width="9.5" height="5.35" fill="#ffffff" stroke="#d4d4d4" stroke-width="0.5"/>
<rect x="223.8" y="268.65" width="9.3" height="5.35" fill="#858585" stroke="#d4d4d4" stroke-width="0.5"/>
<rect x="234.4" y="268.65" width="9.3" height="5.35" fill="#ffffff" stroke="#d4d4d4" stroke-width="0.5"/>
<rect x="212.8" y="274.00" width="9.5" height="5.35" fill="#ffffff" stroke="#d4d4d4" stroke-width="0.5"/>
<rect x="223.8" y="274.00" width="9.3" height="5.35" fill="#858585" stroke="#d4d4d4" stroke-width="0.5"/>
<rect x="234.4" y="274.00" width="9.3" height="5.35" fill="#ffffff" stroke="#d4d4d4" stroke-width="0.5"/>
<rect x="212.8" y="279.35" width="9.5" height="5.35" fill="#ffffff" stroke="#d4d4d4" stroke-width="0.5"/>
<rect x="223.8" y="279.35" width="9.3" height="5.35" fill="#858585" stroke="#d4d4d4" stroke-width="0.5"/>
<rect x="234.4" y="279.35" width="9.3" height="5.35" fill="#ffffff" stroke="#d4d4d4" stroke-width="0.5"/>
<rect x="212.8" y="284.70" width="9.5" height="5.35" fill="#ffffff" stroke="#d4d4d4" stroke-width="0.5"/>
<rect x="223.8" y="284.70" width="9.3" height="5.35" fill="#858585" stroke="#d4d4d4" stroke-width="0.5"/>
<rect x="234.4" y="284.70" width="9.3" height="5.35" fill="#ffffff" stroke="#d4d4d4" stroke-width="0.5"/>
<rect x="212.8" y="290.05" width="9.5" height="5.35" fill="#ffffff" stroke="#d4d4d4" stroke-width="0.5"/>
<rect x="223.8" y="290.05" width="9.3" height="5.35" fill="#858585" stroke="#d4d4d4" stroke-width="0.5"/>
<rect x="234.4" y="290.05" width="9.3" height="5.35" fill="#ffffff" stroke="#d4d4d4" stroke-width="0.5"/>
<rect x="212.8" y="295.40" width="9.5" height="5.35" fill="#ffffff" stroke="#d4d4d4" stroke-width="0.5"/>
<rect x="223.8" y="295.40" width="9.3" height="5.35" fill="#858585" stroke="#d4d4d4" stroke-width="0.5"/>
<rect x="234.4" y="295.40" width="9.3" height="5.35" fill="#ffffff" stroke="#d4d4d4" stroke-width="0.5"/>
<rect x="212.8" y="300.75" width="9.5" height="5.35" fill="#ffffff" stroke="#d4d4d4" stroke-width="0.5"/>
<rect x="223.8" y="300.75" width="9.3" height="5.35" fill="#858585" stroke="#d4d4d4" stroke-width="0.5"/>
<rect x="234.4" y="300.75" width="9.3" height="5.35" fill="#ffffff" stroke="#d4d4d4" stroke-width="0.5"/>
<rect x="212.8" y="306.10" width="9.5" height="5.35" fill="#ffffff" stroke="#d4d4d4" stroke-width="0.5"/>
<rect x="223.8" y="306.10" width="9.3" height="5.35" fill="#858585" stroke="#d4d4d4" stroke-width="0.5"/>
<rect x="234.4" y="306.10" width="9.3" height="5.35" fill="#ffffff" stroke="#d4d4d4" stroke-width="0.5"/>
<rect x="212.8" y="311.45" width="9.5" height="5.35" fill="#ffffff" stroke="#d4d4d4" stroke-width="0.5"/>
<rect x="223.8" y="311.45" width="9.3" height="5.35" fill="#858585" stroke="#d4d4d4" stroke-width="0.5"/>
<rect x="234.4" y="311.45" width="9.3" height="5.35" fill="#ffffff" stroke="#d4d4d4" stroke-width="0.5"/>
<rect x="212.8" y="316.80" width="9.5" height="5.35" fill="#858585" stroke="#d4d4d4" stroke-width="0.5"/>
<rect x="223.8" y="316.80" width="9.3" height="5.35" fill="#858585" stroke="#d4d4d4" stroke-width="0.5"/>
<rect x="234.4" y="316.80" width="9.3" height="5.35" fill="#ffffff" stroke="#d4d4d4" stroke-width="0.5"/>
<rect x="212.8" y="322.15" width="9.5" height="5.35" fill="#ffffff" stroke="#d4d4d4" stroke-width="0.5"/>
<rect x="223.8" y="322.15" width="9.3" height="5.35" fill="#858585" stroke="#d4d4d4" stroke-width="0.5"/>
<rect x="234.4" y="322.15" width="9.3" height="5.35" fill="#ffffff" stroke="#d4d4d4" stroke-width="0.5"/>
<rect x="212.8" y="327.50" width="9.5" height="5.35" fill="#ffffff" stroke="#d4d4d4" stroke-width="0.5"/>
<rect x="223.8" y="327.50" width="9.3" height="5.35" fill="#858585" stroke="#d4d4d4" stroke-width="0.5"/>
<rect x="234.4" y="327.50" width="9.3" height="5.35" fill="#ffffff" stroke="#d4d4d4" stroke-width="0.5"/>
<rect x="212.8" y="332.85" width="9.5" height="5.35" fill="#ffffff" stroke="#d4d4d4" stroke-width="0.5"/>
<rect x="223.8" y="332.85" width="9.3" height="5.35" fill="#858585" stroke="#d4d4d4" stroke-width="0.5"/>
<rect x="234.4" y="332.85" width="9.3" height="5.35" fill="#ffffff" stroke="#d4d4d4" stroke-width="0.5"/>
<rect x="212.8" y="338.20" width="9.5" height="5.35" fill="#ffffff" stroke="#d4d4d4" stroke-width="0.5"/>
<rect x="223.8" y="338.20" width="9.3" height="5.35" fill="#858585" stroke="#d4d4d4" stroke-width="0.5"/>
<rect x="234.4" y="338.20" width="9.3" height="5.35" fill="#ffffff" stroke="#d4d4d4" stroke-width="0.5"/>
<rect x="212.8" y="343.55" width="9.5" height="5.35" fill="#858585" stroke="#d4d4d4" stroke-width="0.5"/>
<rect x="223.8" y="343.55" width="9.3" height="5.35" fill="#858585" stroke="#d4d4d4" stroke-width="0.5"/>
<rect x="234.4" y="343.55" width="9.3" height="5.35" fill="#ffffff" stroke="#d4d4d4" stroke-width="0.5"/>
<rect x="212.8" y="348.90" width="9.5" height="5.35" fill="#ffffff" stroke="#d4d4d4" stroke-width="0.5"/>
<rect x="223.8" y="348.90" width="9.3" height="5.35" fill="#858585" stroke="#d4d4d4" stroke-width="0.5"/>
<rect x="234.4" y="348.90" width="9.3" height="5.35" fill="#ffffff" stroke="#d4d4d4" stroke-width="0.5"/>
<rect x="212.8" y="354.25" width="9.5" height="5.35" fill="#ffffff" stroke="#d4d4d4" stroke-width="0.5"/>
<rect x="223.8" y="354.25" width="9.3" height="5.35" fill="#858585" stroke="#d4d4d4" stroke-width="0.5"/>
<rect x="234.4" y="354.25" width="9.3" height="5.35" fill="#ffffff" stroke="#d4d4d4" stroke-width="0.5"/>
<g transform="scale(0.1)">
<text x="3188" y="217.2" font-size="45" fill="#f6b468" textLength="657.3" lengthAdjust="spacingAndGlyphs">PWY-6737 : Starch-Degradation</text>
<text x="3188" y="270.8" font-size="45" fill="#f6b468" textLength="801.5" lengthAdjust="spacingAndGlyphs">GLYCOCAT-PWY : Glycan-Degradation</text>
<text x="3188" y="324.2" font-size="45" fill="#d6449b" textLength="952.3" lengthAdjust="spacingAndGlyphs">PWY-5347 : Methionine-De-novo-Biosynthesis</text>
<text x="3188" y="377.8" font-size="45" fill="#d6449b" textLength="1147.9" lengthAdjust="spacingAndGlyphs">HSERMETANA-PWY : Methionine-De-novo-Biosynthesis</text>
<text x="3188" y="431.2" font-size="45" fill="#d6449b" textLength="1264.5" lengthAdjust="spacingAndGlyphs">HOMOSER-METSYN-PWY : Methionine-De-novo-Biosynthesis</text>
<text x="3188" y="484.8" font-size="45" fill="#d6449b" textLength="942.7" lengthAdjust="spacingAndGlyphs">TRPSYN-PWY : TRYPTOPHAN-BIOSYNTHESIS</text>
<text x="3188" y="538.2" font-size="45" fill="#d6449b" textLength="1009.0" lengthAdjust="spacingAndGlyphs">COMPLETE-ARO-PWY : Amino-Acid-Biosynthesis</text>
<text x="3188" y="591.7" font-size="45" fill="#d6449b" textLength="557.9" lengthAdjust="spacingAndGlyphs">PWY-7400 : ARGININE-SYN</text>
<text x="3188" y="645.2" font-size="45" fill="#d6449b" textLength="637.6" lengthAdjust="spacingAndGlyphs">ARGSYN-PWY : ARGININE-SYN</text>
<text x="3188" y="698.7" font-size="45" fill="#d6449b" textLength="798.5" lengthAdjust="spacingAndGlyphs">VALSYN-PWY : VALINE-BIOSYNTHESIS</text>
<text x="3188" y="752.2" font-size="45" fill="#d6449b" textLength="692.0" lengthAdjust="spacingAndGlyphs">ILEUSYN-PWY : ISOLEUCINE-SYN</text>
<text x="3188" y="805.7" font-size="45" fill="#d6449b" textLength="647.0" lengthAdjust="spacingAndGlyphs">HISTSYN-PWY : HISTIDINE-SYN</text>
<text x="3188" y="859.2" font-size="45" fill="#d6449b" textLength="729.9" lengthAdjust="spacingAndGlyphs">DAPLYSINESYN-PWY : LYSINE-SYN</text>
<text x="3188" y="912.7" font-size="45" fill="#d6449b" textLength="609.9" lengthAdjust="spacingAndGlyphs">PWY-5101 : ISOLEUCINE-SYN</text>
<text x="3188" y="966.2" font-size="45" fill="#d6449b" textLength="609.9" lengthAdjust="spacingAndGlyphs">PWY-5103 : ISOLEUCINE-SYN</text>
<text x="3188" y="1019.8" font-size="45" fill="#d6449b" textLength="753.5" lengthAdjust="spacingAndGlyphs">ARGSYNBSUB-PWY : ARGININE-SYN</text>
<text x="3188" y="1073.2" font-size="45" fill="#d6449b" textLength="1228.2" lengthAdjust="spacingAndGlyphs">BRANCHED-CHAIN-AA-SYN-PWY : Amino-Acid-Biosynthesis</text>
<text x="3188" y="1126.7" font-size="45" fill="#d6449b" textLength="942.8" lengthAdjust="spacingAndGlyphs">SER-GLYSYN-PWY : Amino-Acid-Biosynthesis</text>
<text x="3188" y="1180.2" font-size="45" fill="#d6449b" textLength="612.3" lengthAdjust="spacingAndGlyphs">PWY-5505 : GLUTAMATE-SYN</text>
<text x="3188" y="1233.7" font-size="45" fill="#d6449b" textLength="609.9" lengthAdjust="spacingAndGlyphs">PWY-3001 : ISOLEUCINE-SYN</text>
<text x="3188" y="1287.2" font-size="45" fill="#d6449b" textLength="867.7" lengthAdjust="spacingAndGlyphs">GLUTORN-PWY : L-Ornithine-Biosynthesis</text>
<text x="3188" y="1340.8" font-size="45" fill="#80c270" textLength="842.0" lengthAdjust="spacingAndGlyphs">PWY-5035 : Fermentation-to-propanoate</text>
<text x="3188" y="1394.2" font-size="45" fill="#2e8a30" font-weight="bold" textLength="703.8" lengthAdjust="spacingAndGlyphs">PWY-5676 : Acetyl-CoA-Butyrate</text>
<text x="3188" y="1447.8" font-size="45" fill="#80c270" textLength="732.4" lengthAdjust="spacingAndGlyphs">P108-PWY : Fermentation (acetate)</text>
<text x="3188" y="1501.2" font-size="45" fill="#8ec6ea" textLength="637.6" lengthAdjust="spacingAndGlyphs">PWY-6545 : Metabolic-Clusters</text>
<text x="3188" y="1554.8" font-size="45" fill="#80c270" textLength="684.3" lengthAdjust="spacingAndGlyphs">PWY-7003 : Alcohol-Biosynthesis</text>
<text x="3188" y="1608.2" font-size="45" fill="#80c270" textLength="708.0" lengthAdjust="spacingAndGlyphs">PWY-6588 : Pyruvate-Degradation</text>
<text x="3188" y="1661.7" font-size="45" fill="#d6449b" textLength="609.9" lengthAdjust="spacingAndGlyphs">PWY-5104 : ISOLEUCINE-SYN</text>
<text x="3188" y="1715.2" font-size="45" fill="#d6449b" textLength="503.5" lengthAdjust="spacingAndGlyphs">PWY-5097 : LYSINE-SYN</text>
<text x="3188" y="1768.7" font-size="45" fill="#80c270" textLength="684.3" lengthAdjust="spacingAndGlyphs">PWY-7111 : Alcohol-Biosynthesis</text>
<text x="3188" y="1822.2" font-size="45" fill="#f6b468" textLength="1200.9" lengthAdjust="spacingAndGlyphs">FUCCAT-PWY : Sugars-And-Polysaccharides-Degradation</text>
<text x="3188" y="1875.8" font-size="45" fill="#d6449b" font-weight="bold" textLength="775.8" lengthAdjust="spacingAndGlyphs">P4-PWY : Amino-Acid-Biosynthesis</text>
<text x="3188" y="1929.2" font-size="45" fill="#8ec6ea" textLength="637.6" lengthAdjust="spacingAndGlyphs">PWY-7210 : Metabolic-Clusters</text>
<text x="3188" y="1982.7" font-size="45" fill="#8ec6ea" textLength="637.6" lengthAdjust="spacingAndGlyphs">PWY-7198 : Metabolic-Clusters</text>
<text x="3188" y="2036.2" font-size="45" fill="#2e8a30" font-weight="bold" textLength="703.8" lengthAdjust="spacingAndGlyphs">PWY-5677 : Acetyl-CoA-Butyrate</text>
<text x="3188" y="2089.8" font-size="45" fill="#d6449b" font-weight="bold" textLength="899.8" lengthAdjust="spacingAndGlyphs">ASPASN-PWY : Amino-Acid-Biosynthesis</text>
<text x="3188" y="2143.2" font-size="45" fill="#f6b468" textLength="777.9" lengthAdjust="spacingAndGlyphs">PWY-1406 : POLYSACCHARIDES-DEG</text>
<text x="3188" y="2196.8" font-size="45" fill="#f6b468" textLength="934.2" lengthAdjust="spacingAndGlyphs">PWY-6572 : Glycosaminoglycan-Degradation</text>
<text x="3188" y="2250.2" font-size="45" fill="#8ec6ea" textLength="1021.6" lengthAdjust="spacingAndGlyphs">PWY0-162 : Pyrimid-Ribonucleot-De-Novo-Biosyn</text>
<text x="3188" y="2303.7" font-size="45" fill="#8ec6ea" textLength="1074.1" lengthAdjust="spacingAndGlyphs">PWY-841 : Purine-Nucleotide-De-Novo-Biosynthesis</text>
<text x="3188" y="2357.2" font-size="45" fill="#8ec6ea" textLength="1243.9" lengthAdjust="spacingAndGlyphs">DENOVOPURINE2-PWY : Purine-Nucleotide-De-Novo-Biosyn</text>
<text x="3188" y="2410.8" font-size="45" fill="#8ec6ea" textLength="892.8" lengthAdjust="spacingAndGlyphs">PWY-7196 : Pyrimidine-Nucleotide-Salvage</text>
<text x="3188" y="2464.2" font-size="45" fill="#8ec6ea" textLength="1139.0" lengthAdjust="spacingAndGlyphs">PWY0-166 : Pyrimid-Deoxyribonucleot-De-Novo-Biosyn</text>
<text x="3188" y="2517.8" font-size="45" fill="#8ec6ea" textLength="1099.1" lengthAdjust="spacingAndGlyphs">PWY-6125 : Purine-Nucleotide-De-Novo-Biosynthesis</text>
<text x="3188" y="2571.2" font-size="45" fill="#8ec6ea" textLength="1099.1" lengthAdjust="spacingAndGlyphs">PWY-7228 : Purine-Nucleotide-De-Novo-Biosynthesis</text>
<text x="3188" y="2624.8" font-size="45" fill="#8ec6ea" textLength="637.6" lengthAdjust="spacingAndGlyphs">PWY-7188 : Metabolic-Clusters</text>
<text x="3188" y="2678.3" font-size="45" fill="#8ec6ea" textLength="637.6" lengthAdjust="spacingAndGlyphs">PWY-7197 : Metabolic-Clusters</text>
<text x="3188" y="2731.8" font-size="45" fill="#8ec6ea" textLength="892.8" lengthAdjust="spacingAndGlyphs">PWY-7200 : Pyrimidine-Nucleotide-Salvage</text>
<text x="3188" y="2785.2" font-size="45" fill="#c42e44" font-weight="bold" textLength="734.0" lengthAdjust="spacingAndGlyphs">PWY-6471 : Antibiotic-Resistance</text>
<text x="3188" y="2838.8" font-size="45" fill="#8ec6ea" textLength="606.1" lengthAdjust="spacingAndGlyphs">PWY-7234 : IMP-Biosynthesis</text>
<text x="3188" y="2892.2" font-size="45" fill="#8ec6ea" textLength="1139.0" lengthAdjust="spacingAndGlyphs">PWY-7187 : Pyrimid-Deoxyribonucleot-De-Novo-Biosyn</text>
<text x="3188" y="2945.8" font-size="45" fill="#8ec6ea" textLength="892.8" lengthAdjust="spacingAndGlyphs">PWY-7199 : Pyrimidine-Nucleotide-Salvage</text>
<text x="3188" y="2999.2" font-size="45" fill="#80c270" textLength="1005.9" lengthAdjust="spacingAndGlyphs">ANAEROFRUCAT-PWY : Fermentation-to-Lactate</text>
<text x="3188" y="3052.8" font-size="45" fill="#dc8c64" textLength="816.9" lengthAdjust="spacingAndGlyphs">PWY-5896 : Menaquinone-Biosynthesis</text>
<text x="3188" y="3106.2" font-size="45" fill="#dc8c64" textLength="816.9" lengthAdjust="spacingAndGlyphs">PWY-5850 : Menaquinone-Biosynthesis</text>
<text x="3188" y="3159.8" font-size="45" fill="#dc8c64" textLength="816.9" lengthAdjust="spacingAndGlyphs">PWY-5845 : Menaquinone-Biosynthesis</text>
<text x="3188" y="3213.2" font-size="45" fill="#f6b468" textLength="1020.7" lengthAdjust="spacingAndGlyphs">LACTOSECAT-PWY : GALACTOSE-DEGRADATION</text>
<text x="3188" y="3266.8" font-size="45" fill="#dc8c64" textLength="816.9" lengthAdjust="spacingAndGlyphs">PWY-5898 : Menaquinone-Biosynthesis</text>
<text x="3188" y="3320.2" font-size="45" fill="#dc8c64" textLength="816.9" lengthAdjust="spacingAndGlyphs">PWY-5897 : Menaquinone-Biosynthesis</text>
<text x="3188" y="3373.8" font-size="45" fill="#dc8c64" textLength="816.9" lengthAdjust="spacingAndGlyphs">PWY-5899 : Menaquinone-Biosynthesis</text>
<text x="3188" y="3427.2" font-size="45" fill="#dc8c64" textLength="816.9" lengthAdjust="spacingAndGlyphs">PWY-5840 : Menaquinone-Biosynthesis</text>
<text x="3188" y="3480.8" font-size="45" fill="#80c270" textLength="1025.8" lengthAdjust="spacingAndGlyphs">P163-PWY : Acetate-Formation (acetate/butyrate)</text>
<text x="3188" y="3534.2" font-size="45" fill="#80c270" textLength="1025.8" lengthAdjust="spacingAndGlyphs">P162-PWY : Acetate-Formation (acetate/butyrate)</text>
<text x="3188" y="3587.8" font-size="45" fill="#dc8c64" textLength="816.9" lengthAdjust="spacingAndGlyphs">PWY-6263 : Menaquinone-Biosynthesis</text>
</g>
<polygon points="92.90,56.30 103.78,69.22 109.22,84.92 92.90,92.08 78.09,84.05 77.79,66.78" fill="#ccd4e6" stroke="none"/>
<polygon points="92.90,66.78 100.46,71.14 100.46,79.86 92.90,84.22 85.34,79.86 85.34,71.14" fill="#909090" fill-opacity="0.10" stroke="none"/>
<polygon points="92.90,66.78 100.46,71.14 100.46,79.86 92.90,84.22 85.34,79.86 85.34,71.14" fill="none" stroke="#b4b4b8" stroke-width="0.5"/>
<polygon points="92.90,58.05 108.01,66.78 108.01,84.22 92.90,92.95 77.79,84.22 77.79,66.78" fill="none" stroke="#9c9c9c" stroke-width="0.55" stroke-dasharray="0.9,0.8"/>
<polygon points="92.90,49.33 115.57,62.41 115.57,88.59 92.90,101.67 70.23,88.59 70.23,62.41" fill="none" stroke="#e6e6e6" stroke-width="0.6"/>
<polygon points="92.90,49.33 115.57,62.41 115.57,88.59 92.90,101.67 70.23,88.59 70.23,62.41" fill="none" stroke="#b89c9c" stroke-width="0.55" stroke-dasharray="0.9,0.8"/>
<polygon points="92.90,40.60 123.12,58.05 123.12,92.95 92.90,110.40 62.68,92.95 62.68,58.05" fill="none" stroke="#e0e0e0" stroke-width="0.6"/>
<polygon points="92.90,40.60 123.12,58.05 123.12,92.95 92.90,110.40 62.68,92.95 62.68,58.05" fill="none" stroke="#a49c9c" stroke-width="0.55" stroke-dasharray="0.9,0.8"/>
<line x1="92.90" y1="66.78" x2="92.90" y2="40.60" stroke="#a4a4a4" stroke-width="0.5" stroke-dasharray="0.8,0.8"/>
<line x1="100.46" y1="71.14" x2="123.12" y2="58.05" stroke="#a4a4a4" stroke-width="0.5" stroke-dasharray="0.8,0.8"/>
<line x1="100.46" y1="79.86" x2="123.12" y2="92.95" stroke="#a4a4a4" stroke-width="0.5" stroke-dasharray="0.8,0.8"/>
<line x1="92.90" y1="84.22" x2="92.90" y2="110.40" stroke="#a4a4a4" stroke-width="0.5" stroke-dasharray="0.8,0.8"/>
<line x1="85.34" y1="79.86" x2="62.68" y2="92.95" stroke="#a4a4a4" stroke-width="0.5" stroke-dasharray="0.8,0.8"/>
<line x1="85.34" y1="71.14" x2="62.68" y2="58.05" stroke="#a4a4a4" stroke-width="0.5" stroke-dasharray="0.8,0.8"/>
<text x="92.60" y="86.40" font-size="4.6" fill="#4a4a4a" text-anchor="end" textLength="6.40" lengthAdjust="spacingAndGlyphs">0.5</text>
<text x="92.60" y="95.80" font-size="4.6" fill="#4a4a4a" text-anchor="end" textLength="6.40" lengthAdjust="spacingAndGlyphs">1.0</text>
<text x="92.60" y="104.40" font-size="4.6" fill="#4a4a4a" text-anchor="end" textLength="6.40" lengthAdjust="spacingAndGlyphs">1.5</text>
<text x="92.60" y="113.60" font-size="4.6" fill="#4a4a4a" text-anchor="end" textLength="6.40" lengthAdjust="spacingAndGlyphs">2.0</text>
<polygon points="92.90,56.30 103.78,69.22 109.22,84.92 92.90,92.08 78.09,84.05 77.79,66.78" fill="none" stroke="#263d68" stroke-width="1.25" stroke-linejoin="miter"/>
<text x="97.70" y="113.80" font-size="3.7" fill="#a8a8a8" textLength="67.90" lengthAdjust="spacingAndGlyphs">Fold change relative to No-GVHD</text>
<text x="54.80" y="24.90" font-size="7.9" fill="#1f3f6e" font-weight="bold" textLength="26.45" lengthAdjust="spacingAndGlyphs" stroke="#1f3f6e" stroke-width="0.2">Non-GI</text>
<text x="83.15" y="24.90" font-size="7.9" fill="#333333" textLength="47.75" lengthAdjust="spacingAndGlyphs">vs. No-GVHD</text>
<text x="61.80" y="37.00" font-size="5.5" fill="#9a9a9a" font-weight="bold" textLength="53.80" lengthAdjust="spacingAndGlyphs" stroke="#9a9a9a" stroke-width="0.18">Antibiotic resistance</text>
<text x="4.75" y="56.50" font-size="5.5" fill="#9a9a9a" font-weight="bold" textLength="50.85" lengthAdjust="spacingAndGlyphs" stroke="#9a9a9a" stroke-width="0.18">Carbohydrate Deg.</text>
<text x="127.50" y="56.80" font-size="5.5" fill="#9a9a9a" font-weight="bold" textLength="29.10" lengthAdjust="spacingAndGlyphs" stroke="#9a9a9a" stroke-width="0.18">Vitamin K2</text>
<text x="8.10" y="95.50" font-size="5.5" fill="#9a9a9a" font-weight="bold" textLength="48.20" lengthAdjust="spacingAndGlyphs" stroke="#9a9a9a" stroke-width="0.18">Nucleotide Biosyn.</text>
<text x="126.80" y="95.90" font-size="5.5" fill="#9a9a9a" font-weight="bold" textLength="36.30" lengthAdjust="spacingAndGlyphs" stroke="#9a9a9a" stroke-width="0.18">Fermentation</text>
<text x="64.00" y="122.10" font-size="5.5" fill="#9a9a9a" font-weight="bold" textLength="43.30" lengthAdjust="spacingAndGlyphs" stroke="#9a9a9a" stroke-width="0.18">AA Biosynthesis</text>
<polygon points="92.90,168.79 110.88,179.52 110.58,200.11 92.90,205.08 77.79,198.62 77.18,180.83" fill="#c8e4c2" stroke="none"/>
<polygon points="92.90,181.18 100.46,185.54 100.46,194.26 92.90,198.62 85.34,194.26 85.34,185.54" fill="#909090" fill-opacity="0.10" stroke="none"/>
<polygon points="92.90,181.18 100.46,185.54 100.46,194.26 92.90,198.62 85.34,194.26 85.34,185.54" fill="none" stroke="#b4b4b8" stroke-width="0.5"/>
<polygon points="92.90,172.45 108.01,181.18 108.01,198.62 92.90,207.35 77.79,198.62 77.79,181.18" fill="none" stroke="#9c9c9c" stroke-width="0.55" stroke-dasharray="0.9,0.8"/>
<polygon points="92.90,163.73 115.57,176.81 115.57,202.99 92.90,216.07 70.23,202.99 70.23,176.81" fill="none" stroke="#e6e6e6" stroke-width="0.6"/>
<polygon points="92.90,163.73 115.57,176.81 115.57,202.99 92.90,216.07 70.23,202.99 70.23,176.81" fill="none" stroke="#b89c9c" stroke-width="0.55" stroke-dasharray="0.9,0.8"/>
<polygon points="92.90,155.00 123.12,172.45 123.12,207.35 92.90,224.80 62.68,207.35 62.68,172.45" fill="none" stroke="#e0e0e0" stroke-width="0.6"/>
<polygon points="92.90,155.00 123.12,172.45 123.12,207.35 92.90,224.80 62.68,207.35 62.68,172.45" fill="none" stroke="#a49c9c" stroke-width="0.55" stroke-dasharray="0.9,0.8"/>
<line x1="92.90" y1="181.18" x2="92.90" y2="155.00" stroke="#a4a4a4" stroke-width="0.5" stroke-dasharray="0.8,0.8"/>
<line x1="100.46" y1="185.54" x2="123.12" y2="172.45" stroke="#a4a4a4" stroke-width="0.5" stroke-dasharray="0.8,0.8"/>
<line x1="100.46" y1="194.26" x2="123.12" y2="207.35" stroke="#a4a4a4" stroke-width="0.5" stroke-dasharray="0.8,0.8"/>
<line x1="92.90" y1="198.62" x2="92.90" y2="224.80" stroke="#a4a4a4" stroke-width="0.5" stroke-dasharray="0.8,0.8"/>
<line x1="85.34" y1="194.26" x2="62.68" y2="207.35" stroke="#a4a4a4" stroke-width="0.5" stroke-dasharray="0.8,0.8"/>
<line x1="85.34" y1="185.54" x2="62.68" y2="172.45" stroke="#a4a4a4" stroke-width="0.5" stroke-dasharray="0.8,0.8"/>
<text x="92.60" y="201.60" font-size="4.6" fill="#4a4a4a" text-anchor="end" textLength="6.40" lengthAdjust="spacingAndGlyphs">0.5</text>
<text x="92.60" y="210.60" font-size="4.6" fill="#4a4a4a" text-anchor="end" textLength="6.40" lengthAdjust="spacingAndGlyphs">1.0</text>
<text x="92.60" y="219.60" font-size="4.6" fill="#4a4a4a" text-anchor="end" textLength="6.40" lengthAdjust="spacingAndGlyphs">1.5</text>
<text x="92.60" y="228.60" font-size="4.6" fill="#4a4a4a" text-anchor="end" textLength="6.40" lengthAdjust="spacingAndGlyphs">2.0</text>
<polygon points="92.90,168.79 110.88,179.52 110.58,200.11 92.90,205.08 77.79,198.62 77.18,180.83" fill="none" stroke="#4a9a46" stroke-width="1.25" stroke-linejoin="miter"/>
<text x="97.70" y="228.60" font-size="3.7" fill="#a8a8a8" textLength="67.90" lengthAdjust="spacingAndGlyphs">Fold change relative to No-GVHD</text>
<text x="51.10" y="141.10" font-size="7.9" fill="#3fa03f" font-weight="bold" textLength="33.90" lengthAdjust="spacingAndGlyphs" stroke="#3fa03f" stroke-width="0.2">Upper GI</text>
<text x="86.90" y="141.10" font-size="7.9" fill="#333333" textLength="48.10" lengthAdjust="spacingAndGlyphs">vs. No-GVHD</text>
<text x="61.80" y="150.10" font-size="5.5" fill="#9a9a9a" font-weight="bold" textLength="54.10" lengthAdjust="spacingAndGlyphs" stroke="#9a9a9a" stroke-width="0.18">Antibiotic resistance</text>
<text x="4.75" y="171.50" font-size="5.5" fill="#9a9a9a" font-weight="bold" textLength="50.85" lengthAdjust="spacingAndGlyphs" stroke="#9a9a9a" stroke-width="0.18">Carbohydrate Deg.</text>
<text x="127.50" y="171.80" font-size="5.5" fill="#9a9a9a" font-weight="bold" textLength="29.10" lengthAdjust="spacingAndGlyphs" stroke="#9a9a9a" stroke-width="0.18">Vitamin K2</text>
<text x="8.10" y="210.50" font-size="5.5" fill="#9a9a9a" font-weight="bold" textLength="48.20" lengthAdjust="spacingAndGlyphs" stroke="#9a9a9a" stroke-width="0.18">Nucleotide Biosyn.</text>
<text x="125.70" y="210.90" font-size="5.5" fill="#9a9a9a" font-weight="bold" textLength="35.00" lengthAdjust="spacingAndGlyphs" stroke="#9a9a9a" stroke-width="0.18">Fermentation</text>
<text x="69.00" y="237.10" font-size="5.5" fill="#9a9a9a" font-weight="bold" textLength="42.30" lengthAdjust="spacingAndGlyphs" stroke="#9a9a9a" stroke-width="0.18">AA Biosynthesis</text>
<polygon points="92.90,280.97 124.64,285.68 108.47,312.99 92.90,317.44 77.03,313.16 78.39,295.62" fill="#eecac8" stroke="none"/>
<polygon points="92.90,295.27 100.46,299.64 100.46,308.36 92.90,312.73 85.34,308.36 85.34,299.64" fill="#909090" fill-opacity="0.10" stroke="none"/>
<polygon points="92.90,295.27 100.46,299.64 100.46,308.36 92.90,312.73 85.34,308.36 85.34,299.64" fill="none" stroke="#b4b4b8" stroke-width="0.5"/>
<polygon points="92.90,286.55 108.01,295.27 108.01,312.73 92.90,321.45 77.79,312.73 77.79,295.27" fill="none" stroke="#9c9c9c" stroke-width="0.55" stroke-dasharray="0.9,0.8"/>
<polygon points="92.90,277.82 115.57,290.91 115.57,317.09 92.90,330.18 70.23,317.09 70.23,290.91" fill="none" stroke="#e6e6e6" stroke-width="0.6"/>
<polygon points="92.90,277.82 115.57,290.91 115.57,317.09 92.90,330.18 70.23,317.09 70.23,290.91" fill="none" stroke="#b89c9c" stroke-width="0.55" stroke-dasharray="0.9,0.8"/>
<polygon points="92.90,269.10 123.12,286.55 123.12,321.45 92.90,338.90 62.68,321.45 62.68,286.55" fill="none" stroke="#e0e0e0" stroke-width="0.6"/>
<polygon points="92.90,269.10 123.12,286.55 123.12,321.45 92.90,338.90 62.68,321.45 62.68,286.55" fill="none" stroke="#a49c9c" stroke-width="0.55" stroke-dasharray="0.9,0.8"/>
<line x1="92.90" y1="295.27" x2="92.90" y2="269.10" stroke="#a4a4a4" stroke-width="0.5" stroke-dasharray="0.8,0.8"/>
<line x1="100.46" y1="299.64" x2="123.12" y2="286.55" stroke="#a4a4a4" stroke-width="0.5" stroke-dasharray="0.8,0.8"/>
<line x1="100.46" y1="308.36" x2="123.12" y2="321.45" stroke="#a4a4a4" stroke-width="0.5" stroke-dasharray="0.8,0.8"/>
<line x1="92.90" y1="312.73" x2="92.90" y2="338.90" stroke="#a4a4a4" stroke-width="0.5" stroke-dasharray="0.8,0.8"/>
<line x1="85.34" y1="308.36" x2="62.68" y2="321.45" stroke="#a4a4a4" stroke-width="0.5" stroke-dasharray="0.8,0.8"/>
<line x1="85.34" y1="299.64" x2="62.68" y2="286.55" stroke="#a4a4a4" stroke-width="0.5" stroke-dasharray="0.8,0.8"/>
<text x="92.60" y="315.60" font-size="4.6" fill="#4a4a4a" text-anchor="end" textLength="6.40" lengthAdjust="spacingAndGlyphs">0.5</text>
<text x="92.60" y="325.00" font-size="4.6" fill="#4a4a4a" text-anchor="end" textLength="6.40" lengthAdjust="spacingAndGlyphs">1.0</text>
<text x="92.60" y="334.40" font-size="4.6" fill="#4a4a4a" text-anchor="end" textLength="6.40" lengthAdjust="spacingAndGlyphs">1.5</text>
<text x="92.60" y="343.50" font-size="4.6" fill="#4a4a4a" text-anchor="end" textLength="6.40" lengthAdjust="spacingAndGlyphs">2.0</text>
<polygon points="92.90,280.97 124.64,285.68 108.47,312.99 92.90,317.44 77.03,313.16 78.39,295.62" fill="none" stroke="#b01e3a" stroke-width="1.25" stroke-linejoin="miter"/>
<text x="97.70" y="343.60" font-size="3.7" fill="#a8a8a8" textLength="67.90" lengthAdjust="spacingAndGlyphs">Fold change relative to No-GVHD</text>
<text x="51.10" y="255.30" font-size="7.9" fill="#b0183a" font-weight="bold" textLength="33.70" lengthAdjust="spacingAndGlyphs" stroke="#b0183a" stroke-width="0.2">Lower GI</text>
<text x="86.70" y="255.30" font-size="7.9" fill="#333333" textLength="48.30" lengthAdjust="spacingAndGlyphs">vs. No-GVHD</text>
<text x="59.70" y="265.40" font-size="5.5" fill="#161616" font-weight="bold" textLength="58.60" lengthAdjust="spacingAndGlyphs" stroke="#161616" stroke-width="0.18">Antibiotic resistance *</text>
<text x="6.80" y="284.90" font-size="5.5" fill="#9a9a9a" font-weight="bold" textLength="49.50" lengthAdjust="spacingAndGlyphs" stroke="#9a9a9a" stroke-width="0.18">Carbohydrate Deg.</text>
<text x="127.50" y="284.50" font-size="5.5" fill="#161616" font-weight="bold" textLength="36.60" lengthAdjust="spacingAndGlyphs" stroke="#161616" stroke-width="0.18">Vitamin K2 **</text>
<text x="8.10" y="323.60" font-size="5.5" fill="#9a9a9a" font-weight="bold" textLength="48.20" lengthAdjust="spacingAndGlyphs" stroke="#9a9a9a" stroke-width="0.18">Nucleotide Biosyn.</text>
<text x="125.70" y="323.60" font-size="5.5" fill="#9a9a9a" font-weight="bold" textLength="35.00" lengthAdjust="spacingAndGlyphs" stroke="#9a9a9a" stroke-width="0.18">Fermentation</text>
<text x="63.70" y="352.20" font-size="5.5" fill="#161616" font-weight="bold" textLength="52.50" lengthAdjust="spacingAndGlyphs" stroke="#161616" stroke-width="0.18">AA Biosynthesis ***</text>
<text x="0.4" y="11.9" font-size="12.2" font-weight="bold" fill="#111" stroke="#111" stroke-width="0.3">A</text>
<text x="186.2" y="8.9" font-size="10.5" font-weight="bold" fill="#111" stroke="#111" stroke-width="0.3" textLength="6.4" lengthAdjust="spacingAndGlyphs">B</text>
<defs><linearGradient id="cb" x1="0" y1="0" x2="0" y2="1"><stop offset="0.000" stop-color="#dc3a1e"/><stop offset="0.083" stop-color="#e85c30"/><stop offset="0.167" stop-color="#f0864c"/><stop offset="0.250" stop-color="#f5a864"/><stop offset="0.333" stop-color="#f8c882"/><stop offset="0.417" stop-color="#fbe2a4"/><stop offset="0.500" stop-color="#fdf5c8"/><stop offset="0.583" stop-color="#f4f8ec"/><stop offset="0.667" stop-color="#e0f2f4"/><stop offset="0.750" stop-color="#b0dcec"/><stop offset="0.833" stop-color="#80c2e2"/><stop offset="0.917" stop-color="#44a2d2"/><stop offset="1.000" stop-color="#1c7ab4"/></linearGradient></defs>
<rect x="453.2" y="14.8" width="7.5" height="59.3" fill="url(#cb)"/>
<text x="464.7" y="26.20" font-size="6.1" fill="#222">1</text>
<text x="464.7" y="36.15" font-size="6.1" fill="#222">0.5</text>
<text x="464.7" y="46.10" font-size="6.1" fill="#222">0</text>
<text x="464.4" y="56.05" font-size="6.1" fill="#222">-0.5</text>
<text x="464.4" y="66.00" font-size="6.1" fill="#222">-1</text>
<rect x="452.8" y="86.3" width="8.1" height="8.5" fill="#fff" stroke="#c4c4c4" stroke-width="0.6"/>
<rect x="452.8" y="96.0" width="8.1" height="7.9" fill="#858585" stroke="#a0a0a0" stroke-width="0.4"/>
<text x="462.4" y="93.0" font-size="5.8" fill="#1c1c1c">NS</text>
<text x="462.4" y="102.6" font-size="5.8" fill="#1c1c1c" textLength="26" lengthAdjust="spacingAndGlyphs">FDR≤0.05</text>
<text x="452.2" y="116.40" font-size="5.9" fill="#f6b264" textLength="67.3" lengthAdjust="spacingAndGlyphs">Carbohydrate degradation</text>
<text x="452.2" y="124.00" font-size="5.9" fill="#c8308c" textLength="60.6" lengthAdjust="spacingAndGlyphs">Amino acid biosynthesis</text>
<text x="452.2" y="131.50" font-size="5.9" fill="#86c2ea" textLength="60.2" lengthAdjust="spacingAndGlyphs">Nucleotide biosynthesis</text>
<text x="452.2" y="139.00" font-size="5.9" fill="#a8173a" textLength="52.6" lengthAdjust="spacingAndGlyphs">Antibiotic Resistance</text>
<text x="452.2" y="146.20" font-size="5.9" fill="#c89068" textLength="21.8" lengthAdjust="spacingAndGlyphs">Vitamin K</text>
<text x="474.3" y="147.40" font-size="4" fill="#c89068">2</text>
<text x="477.2" y="146.20" font-size="5.9" fill="#c89068" textLength="34.8" lengthAdjust="spacingAndGlyphs">biosynthesis</text>
<text x="452.2" y="154.40" font-size="5.9" fill="#72b464" textLength="33.9" lengthAdjust="spacingAndGlyphs">Fermentation</text>
<text transform="translate(219.6,367.6) rotate(-45) scale(0.1)" font-size="67.0" font-weight="bold" fill="#1e1e1e" stroke="#1e1e1e" stroke-width="2.6" text-anchor="end" textLength="410.0" lengthAdjust="spacingAndGlyphs">No.vs.Upper GI</text>
<text transform="translate(229.6,367.6) rotate(-45) scale(0.1)" font-size="67.0" font-weight="bold" fill="#1e1e1e" stroke="#1e1e1e" stroke-width="2.6" text-anchor="end" textLength="410.0" lengthAdjust="spacingAndGlyphs">No.vs.Lower GI</text>
<text transform="translate(240.0,367.6) rotate(-45) scale(0.1)" font-size="67.0" font-weight="bold" fill="#1e1e1e" stroke="#1e1e1e" stroke-width="2.6" text-anchor="end" textLength="514.0" lengthAdjust="spacingAndGlyphs">Non-GI.vs.Lower GI</text>
<text transform="translate(258.0,367.6) rotate(-45) scale(0.1)" font-size="67.0" font-weight="bold" fill="#1e1e1e" stroke="#1e1e1e" stroke-width="2.6" text-anchor="end" textLength="256.0" lengthAdjust="spacingAndGlyphs">No-GVHD</text>
<text transform="translate(274.9,367.6) rotate(-45) scale(0.1)" font-size="67.0" font-weight="bold" fill="#1e1e1e" stroke="#1e1e1e" stroke-width="2.6" text-anchor="end" textLength="162.0" lengthAdjust="spacingAndGlyphs">Non-GI</text>
<text transform="translate(293.0,367.6) rotate(-45) scale(0.1)" font-size="67.0" font-weight="bold" fill="#1e1e1e" stroke="#1e1e1e" stroke-width="2.6" text-anchor="end" textLength="236.0" lengthAdjust="spacingAndGlyphs">Upper GI</text>
<text transform="translate(310.6,367.6) rotate(-45) scale(0.1)" font-size="67.0" font-weight="bold" fill="#1e1e1e" stroke="#1e1e1e" stroke-width="2.6" text-anchor="end" textLength="236.0" lengthAdjust="spacingAndGlyphs">Lower GI</text>
<line x1="245.2" y1="389.7" x2="308.7" y2="389.7" stroke="#4a4a4a" stroke-width="1.0"/>
<text x="257.7" y="399.9" font-size="7.1" font-weight="bold" fill="#141414" stroke="#141414" stroke-width="0.35" textLength="33.7" lengthAdjust="spacingAndGlyphs">Post-onset</text>
<path d="M212.60 19.88H211.30V25.22H212.60 M211.30 22.55H210.30V30.57H212.60 M210.30 26.56H208.90V35.92H212.60 M208.90 31.24H207.90V41.27H212.60 M212.60 46.62H211.30V51.97H212.60 M207.90 36.26H206.90V49.30H211.30 M212.60 57.32H212.60V62.67H212.60 M212.60 60.00H212.50V68.02H212.60 M212.50 64.01H212.40V73.38H212.60 M212.40 68.69H212.40V78.72H212.60 M212.40 73.71H212.30V84.07H212.60 M212.30 78.89H212.20V89.42H212.60 M212.20 84.16H212.00V94.77H212.60 M212.00 89.47H211.70V100.12H212.60 M212.60 105.47H212.30V110.82H212.60 M211.70 94.80H211.00V108.15H212.30 M212.60 116.17H212.20V121.52H212.60 M212.20 118.85H211.80V126.88H212.60 M211.00 101.47H209.90V122.86H211.80 M206.90 42.78H206.20V112.17H209.90 M206.20 77.47H199.70V132.22H212.60 M212.60 137.57H211.80V142.93H212.60 M212.60 148.27H211.50V153.62H212.60 M211.80 140.25H210.30V150.95H211.50 M210.30 145.60H208.80V158.97H212.60 M212.60 164.32H212.20V169.67H212.60 M212.20 167.00H211.80V175.02H212.60 M211.80 171.01H211.00V180.38H212.60 M212.60 185.72H212.20V191.07H212.60 M212.20 188.40H211.80V196.42H212.60 M211.00 175.69H209.80V192.41H211.80 M208.80 152.29H205.60V184.05H209.80 M199.70 104.85H193.40V168.17H205.60 M212.60 201.77H205.30V207.12H212.60 M212.60 212.47H208.80V217.82H212.60 M205.30 204.45H198.40V215.15H208.80 M193.40 136.51H189.50V209.80H198.40 M212.60 223.17H212.30V228.52H212.60 M212.30 225.85H211.30V233.88H212.60 M211.30 229.86H210.30V239.22H212.60 M210.30 234.54H208.80V244.57H212.60 M208.80 239.56H207.60V249.92H212.60 M212.60 255.27H212.30V260.62H212.60 M212.30 257.95H211.80V265.98H212.60 M211.80 261.96H211.20V271.32H212.60 M211.20 266.64H210.60V276.67H212.60 M210.60 271.66H209.80V282.02H212.60 M212.60 287.38H211.40V292.72H212.60 M209.80 276.84H207.30V290.05H211.40 M207.60 244.74H206.30V283.45H207.30 M206.30 264.09H204.30V298.07H212.60 M212.60 303.42H212.50V308.77H212.60 M212.50 306.10H212.40V314.12H212.60 M212.40 310.11H212.30V319.47H212.60 M212.60 324.82H212.60V330.17H212.60 M212.60 327.50H212.50V335.52H212.60 M212.50 331.51H212.30V340.88H212.60 M212.30 314.79H208.80V336.19H212.30 M204.30 281.08H198.90V325.49H208.80 M212.60 346.22H204.30V351.57H212.60 M204.30 348.90H200.00V356.92H212.60 M198.90 303.29H191.50V352.91H200.00 M189.50 173.15H185.50V328.10H191.50" fill="none" stroke="#1e1e1e" stroke-width="0.6"/>
</svg>
</body></html>
